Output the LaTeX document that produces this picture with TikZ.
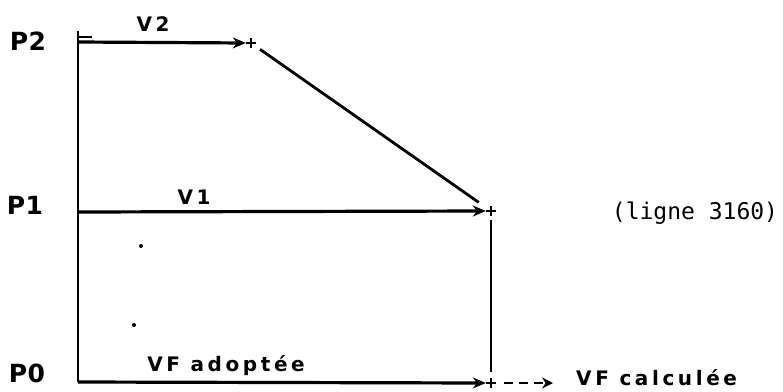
\documentclass[tikz,border=0pt]{standalone}
\usepackage{fontspec}
\newfontfamily\hand[LetterSpace=18]{DejaVu Sans}
\newfontfamily\handP[LetterSpace=2]{DejaVu Sans}
\newfontfamily\monof{DejaVu Sans Mono}
\usetikzlibrary{arrows.meta}
\begin{document}
\begin{tikzpicture}[x=1pt,y=-1pt,
  lbl/.style={inner sep=0pt, font=\hand\bfseries\fontsize{20}{22}\selectfont},
  plbl/.style={inner sep=0pt, font=\handP\bfseries\fontsize{25}{27}\selectfont},
  plusmark/.style={inner sep=0pt, minimum size=10pt},
  arr/.style={line width=3.2pt, -{Stealth[length=13pt,width=11pt]}},
  seg/.style={line width=2.8pt},
  dotm/.style={circle, fill=black, inner sep=0pt, minimum size=4pt}]
\useasboundingbox (0,0) rectangle (783,391);
% axis points
\coordinate (top) at (78,31);
\coordinate (o2) at (78,42);
\coordinate (o1) at (78,212);
\coordinate (o0) at (78,382);
% plus marks
\node[plusmark] (q2) at (251,43) {};
\node[plusmark] (q1) at (491,211) {};
\node[plusmark] (q0) at (491,383) {};
\foreach \q in {q2,q1,q0}{
  \draw[line width=2.8pt] (\q.north) -- (\q.south) (\q.west) -- (\q.east);
}
% axis
\draw[seg] (top) -- (o0);
\draw[line width=2pt] (78,37) -- (92,37);
% arrows
\draw[arr] (o2) -- (q2.west);
\draw[arr] (o1) -- (q1.west);
\draw[arr] (o0) -- (q0.west);
% diagonal and vertical
\draw[seg, shorten <=11pt, shorten >=15pt] (q2.center) -- (q1.center);
\draw[seg, shorten <=9pt, shorten >=11pt] (q1.center) -- (q0.center);
% labels
\node[plbl] (P2) at (28,41) {P2};
\node[plbl] (P1) at (25,205) {P1};
\node[plbl] (P0) at (27,373) {P0};
\node[lbl] (V2) at (153,24) {V2};
\node[lbl] (V1) at (194,197) {V1};
\node[lbl] (VFa) at (226,366) {VF adoptée};
\node[lbl, anchor=west] (VFc) at (576,378) {VF calculée};
\node[inner sep=0pt, font=\monof\fontsize{23}{25}\selectfont] (ligne) at (695,213) {(ligne 3160)};
% dashed arrow
\coordinate (dend) at (553,383);
\draw[line width=2.8pt, dash pattern=on 9pt off 6pt, -{Stealth[length=11pt,width=11pt]}] (q0.east) ++(8pt,0) -- (dend);
% dots
\node[dotm] (d1) at (141,246) {};
\node[dotm] (d2) at (134,325) {};
\end{tikzpicture}
\end{document}
